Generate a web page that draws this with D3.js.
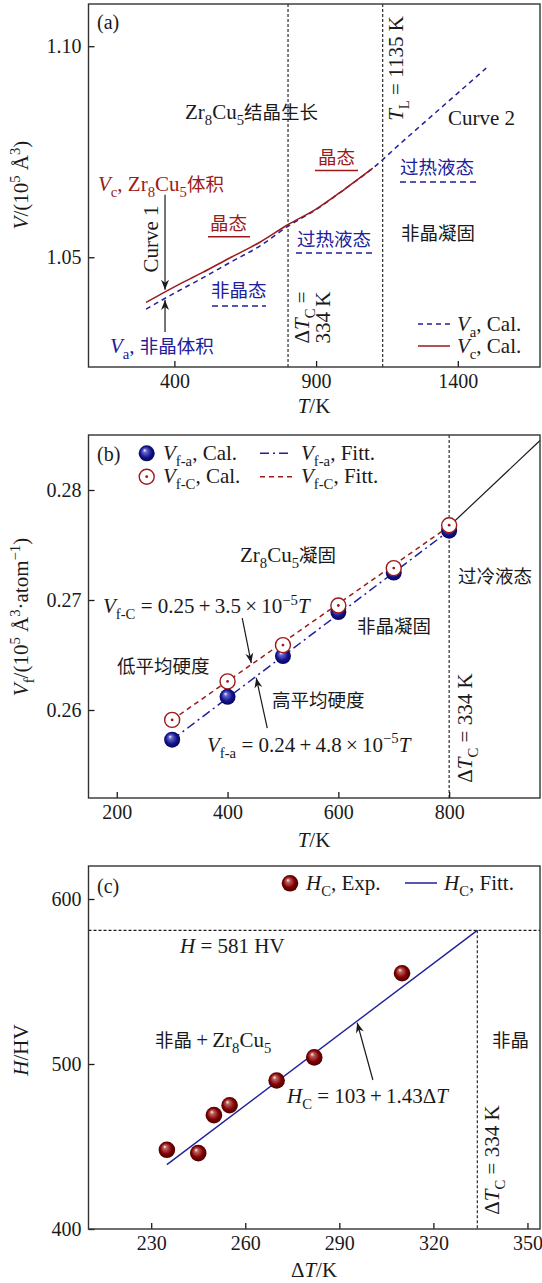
<!DOCTYPE html>
<html>
<head>
<meta charset="utf-8">
<script src="https://cdn.jsdelivr.net/npm/d3@7"></script>
<style>
body { margin: 0; background: #fff; }
svg { display: block; }
</style>
</head>
<body>
<script>
// (a) cell volume vs temperature
const tempCryst = [300, 400, 500, 600, 700, 800, 900, 1000, 1100];
const volCryst = [1.0393, 1.0430, 1.0464, 1.0500, 1.0535, 1.0577, 1.0614, 1.0661, 1.0711];
const tempAmor = [300, 400, 500, 600, 700, 800, 900, 1000, 1100, 1200, 1300, 1400, 1500];
const volAmor = [1.0377, 1.0415, 1.0451, 1.0489, 1.0526, 1.0573, 1.0613, 1.0661, 1.0711, 1.0771, 1.0830, 1.0889, 1.0948];
const markA = [801, 1135];
const xTicksA = [400, 900, 1400], yTicksA = [1.05, 1.10];

// (b) free volume vs temperature
const tempB = [300, 400, 500, 600, 700, 800];
const vfA = [0.2573, 0.2612, 0.2649, 0.2689, 0.2725, 0.2763];
const vfC = [0.2591, 0.2626, 0.2659, 0.2695, 0.2729, 0.2768];
const fitT = [300, 800];
const fitA = [0.2573, 0.2763];
const fitC = [0.2591, 0.2767];
const liqT = [800, 964], liqV = [0.2767, 0.2845];
const xTicksB = [200, 400, 600, 800], yTicksB = [0.26, 0.27, 0.28];

// (c) hardness vs undercooling
const dT = [235, 245, 250, 255, 270, 282, 310];
const hard = [448, 446, 469, 475, 490, 504, 555];
const fitDT = [235, 334], fitH = [439, 581];
const hMax = 581, dTc = 334;
const xTicksC = [230, 260, 290, 320, 350], yTicksC = [400, 500, 600];

const serif = "'Liberation Serif', 'Times New Roman', serif";
const cjk = "'Noto Sans CJK SC', sans-serif";
const red = "#9c1a1a", blue = "#20209a", ink = "#1a1a1a";
const left = 88.5, width = 451.5, height = 363;
const th = "\u2009"; // thin space round binary operators

const svg = d3.select("body").append("svg")
    .attr("width", 542).attr("height", 1283)
    .style("font-family", serif);

const defs = svg.append("defs");
function ballGrad(id, light, mid, dark) {
  const g = defs.append("radialGradient").attr("id", id)
      .attr("cx", "50%").attr("cy", "50%").attr("r", "55%")
      .attr("fx", "36%").attr("fy", "30%");
  g.append("stop").attr("offset", "0%").attr("stop-color", "#fff");
  g.append("stop").attr("offset", "20%").attr("stop-color", light);
  g.append("stop").attr("offset", "62%").attr("stop-color", mid);
  g.append("stop").attr("offset", "100%").attr("stop-color", dark);
}
ballGrad("ballBlue", "#6a6ad0", "#14148e", "#000050");
ballGrad("ballRed", "#c06060", "#7e0000", "#420000");

defs.append("marker").attr("id", "arr")
    .attr("viewBox", "-11 -5 12 10").attr("refX", 0).attr("refY", 0)
    .attr("markerWidth", 12).attr("markerHeight", 10)
    .attr("markerUnits", "userSpaceOnUse").attr("orient", "auto")
  .append("path").attr("d", "M0,0 L-10,-4 L-7,0 L-10,4 Z").attr("fill", ink);

// text with italic / sub / sup / cjk pieces
function rich(sel, x, y, segs, o = {}) {
  const fs = o.size || 21;
  const t = sel.append("text").attr("x", x).attr("y", y)
      .attr("font-size", fs).attr("text-anchor", o.anchor || "start")
      .attr("fill", o.color || ink);
  if (o.rotate) t.attr("transform", `rotate(${o.rotate},${x},${y})`);
  let shift = 0;
  segs.forEach(s => {
    const txt = s[0], f = s[1] || "";
    const target = f.includes("b") ? fs * 0.3 : f.includes("p") ? -fs * 0.4 : 0;
    const ts = t.append("tspan").text(txt).attr("dy", target - shift);
    shift = target;
    if (f.includes("b") || f.includes("p")) ts.attr("font-size", fs * 0.7);
    if (f.includes("i")) ts.attr("font-style", "italic");
    if (f.includes("c")) ts.attr("font-family", cjk).attr("font-size", 18.5);
  });
  return t;
}

function panel(top, xd, yd) {
  const g = svg.append("g").attr("transform", `translate(${left},${top})`);
  const x = d3.scaleLinear().domain(xd).range([0, width]);
  const y = d3.scaleLinear().domain(yd).range([height, 0]);
  return {g, x, y};
}

function axes(p, xt, yt, yfmt) {
  p.g.append("g").attr("transform", `translate(0,${height})`)
      .call(d3.axisBottom(p.x).tickValues(xt).tickSizeInner(-6).tickSizeOuter(0).tickPadding(7).tickFormat(d3.format("d")))
      .call(a => a.select(".domain").remove())
      .attr("font-family", serif).attr("font-size", 20).style("color", ink);
  p.g.append("g")
      .call(d3.axisLeft(p.y).tickValues(yt).tickSizeInner(-6).tickSizeOuter(0).tickPadding(7).tickFormat(yfmt))
      .call(a => a.select(".domain").remove())
      .attr("font-family", serif).attr("font-size", 20).style("color", ink);
  p.g.selectAll(".tick line").attr("stroke-width", 1.3);
  p.g.append("rect").attr("width", width).attr("height", height)
      .attr("fill", "none").attr("stroke", "#333").attr("stroke-width", 1.4);
}

function arrow(p, xs, ys) {
  p.g.append("line")
      .attr("x1", p.x(xs[0])).attr("y1", p.y(ys[0]))
      .attr("x2", p.x(xs[1])).attr("y2", p.y(ys[1]))
      .attr("stroke", ink).attr("stroke-width", 1.2).attr("marker-end", "url(#arr)");
}

function seg(x1, y1, x2, y2, color, dash) {
  svg.append("line").attr("x1", x1).attr("y1", y1).attr("x2", x2).attr("y2", y2)
      .attr("stroke", color).attr("stroke-width", 1.5).attr("stroke-dasharray", dash || null);
}

// ---------- (a) ----------
const pa = panel(4, [97, 1690], [1.024, 1.11]);

pa.g.selectAll(".vmark").data(markA).enter().append("line")
    .attr("x1", d => pa.x(d)).attr("x2", d => pa.x(d))
    .attr("y1", 0).attr("y2", height)
    .attr("stroke", ink).attr("stroke-width", 1.1).attr("stroke-dasharray", "3,2");

pa.g.append("path")
    .attr("fill", "none").attr("stroke", blue).attr("stroke-width", 1.5).attr("stroke-dasharray", "5,4")
    .attr("d", d3.line().curve(d3.curveMonotoneX)
      .x((d, i) => pa.x(tempAmor[i])).y(d => pa.y(d))(volAmor));
pa.g.append("path")
    .attr("fill", "none").attr("stroke", red).attr("stroke-width", 1.5)
    .attr("d", d3.line().curve(d3.curveMonotoneX)
      .x((d, i) => pa.x(tempCryst[i])).y(d => pa.y(d))(volCryst));

arrow(pa, [367, 367], [1.0648, 1.0423]);
arrow(pa, [367, 367], [1.0323, 1.0399]);

axes(pa, xTicksA, yTicksA, d3.format(".2f"));

rich(svg, 97, 29, [["(a)"]], {size: 20});
rich(svg, 185, 119, [["Zr"], ["8", "b"], ["Cu"], ["5", "b"], ["结晶生长", "c"]]);
rich(svg, 403, 68.5, [["T", "i"], ["L", "b"], [" = 1135 K"]], {rotate: -90, anchor: "middle"});
rich(svg, 448, 125, [["Curve 2"]]);
rich(svg, 318, 163.5, [["晶态", "c"]], {color: red});
seg(315, 170.5, 358, 170.5, red);
rich(svg, 400, 173.5, [["过热液态", "c"]], {color: blue});
seg(400, 182, 476, 182, blue, "6,4");
rich(svg, 98, 191, [["V", "i"], ["c", "b"], [", Zr"], ["8", "b"], ["Cu"], ["5", "b"], ["体积", "c"]], {color: red});
rich(svg, 158, 239, [["Curve 1"]], {rotate: -90, anchor: "middle"});
rich(svg, 210, 229.5, [["晶态", "c"]], {color: red});
seg(208, 236.7, 250, 236.7, red);
rich(svg, 211, 296.5, [["非晶态", "c"]], {color: blue});
seg(212, 306, 266, 306, blue, "6,4");
rich(svg, 110, 353, [["V", "i"], ["a", "b"], [", "], ["非晶体积", "c"]], {color: blue});
rich(svg, 297, 245.5, [["过热液态", "c"]], {color: blue});
seg(296, 253, 372, 253, blue, "6,4");
rich(svg, 401, 239.5, [["非晶凝固", "c"]]);
rich(svg, 309, 317.5, [["Δ"], ["T", "i"], ["C", "b"], [" ="]], {rotate: -90, anchor: "middle"});
rich(svg, 330, 317.5, [["334 K"]], {rotate: -90, anchor: "middle"});
seg(418, 324, 450, 324, blue, "5,4");
rich(svg, 457, 330.5, [["V", "i"], ["a", "b"], [", Cal."]]);
seg(418, 346, 450, 346, red);
rich(svg, 457, 352.5, [["V", "i"], ["c", "b"], [", Cal."]]);
rich(svg, 314, 413, [["T", "i"], ["/K"]], {anchor: "middle"});
rich(svg, 28, 185, [["V", "i"], ["/(10"], ["5", "p"], [" Å"], ["3", "p"], [")"]], {rotate: -90, anchor: "middle"});

// ---------- (b) ----------
const pb = panel(435, [149, 964], [0.252, 0.285]);

pb.g.append("line")
    .attr("x1", pb.x(800)).attr("x2", pb.x(800)).attr("y1", 0).attr("y2", height)
    .attr("stroke", ink).attr("stroke-width", 1.1).attr("stroke-dasharray", "3,2");

const lineB = d3.line().x(d => pb.x(d[0])).y(d => pb.y(d[1]));
pb.g.append("path").attr("fill", "none").attr("stroke", ink).attr("stroke-width", 1.2)
    .attr("d", lineB(d3.zip(liqT, liqV)));
pb.g.append("path").attr("fill", "none").attr("stroke", blue).attr("stroke-width", 1.5)
    .attr("stroke-dasharray", "9,4,2,4")
    .attr("d", lineB(d3.zip(fitT, fitA)));
pb.g.append("path").attr("fill", "none").attr("stroke", red).attr("stroke-width", 1.5)
    .attr("stroke-dasharray", "5,4")
    .attr("d", lineB(d3.zip(fitT, fitC)));

pb.g.selectAll(".ballA").data(vfA).enter().append("circle")
    .attr("cx", (d, i) => pb.x(tempB[i])).attr("cy", d => pb.y(d))
    .attr("r", 8).attr("fill", "url(#ballBlue)");
pb.g.selectAll(".ringC").data(vfC).enter().append("circle")
    .attr("cx", (d, i) => pb.x(tempB[i])).attr("cy", d => pb.y(d))
    .attr("r", 7.5).attr("fill", "#fff").attr("stroke", red).attr("stroke-width", 1.4);
pb.g.selectAll(".dotC").data(vfC).enter().append("circle")
    .attr("cx", (d, i) => pb.x(tempB[i])).attr("cy", d => pb.y(d))
    .attr("r", 1.4).attr("fill", red);

arrow(pb, [426.5, 442.8], [0.26836, 0.26427]);
arrow(pb, [471.7, 451.8], [0.25836, 0.26291]);

axes(pb, xTicksB, yTicksB, d3.format(".2f"));

rich(svg, 97, 461, [["(b)"]], {size: 20});
svg.append("circle").attr("cx", 146.7).attr("cy", 453.3).attr("r", 8).attr("fill", "url(#ballBlue)");
rich(svg, 163, 460, [["V", "i"], ["f-a", "b"], [", Cal."]]);
seg(260, 453.3, 292, 453.3, blue, "9,4,2,4");
rich(svg, 301, 460, [["V", "i"], ["f-a", "b"], [", Fitt."]]);
svg.append("circle").attr("cx", 146.7).attr("cy", 476.7).attr("r", 7.5)
    .attr("fill", "#fff").attr("stroke", red).attr("stroke-width", 1.4);
svg.append("circle").attr("cx", 146.7).attr("cy", 476.7).attr("r", 1.4).attr("fill", red);
rich(svg, 163, 483, [["V", "i"], ["f-C", "b"], [", Cal."]]);
seg(260, 476.7, 292, 476.7, red, "5,4");
rich(svg, 301, 483, [["V", "i"], ["f-C", "b"], [", Fitt."]]);
rich(svg, 240, 561.5, [["Zr"], ["8", "b"], ["Cu"], ["5", "b"], ["凝固", "c"]]);
rich(svg, 458, 583, [["过冷液态", "c"]]);
rich(svg, 103, 613, [["V", "i"], ["f-C", "b"], [` = 0.25${th}+${th}3.5${th}×${th}10`], ["−5", "p"], ["T", "i"]]);
rich(svg, 117, 673, [["低平均硬度", "c"]]);
rich(svg, 272, 706.5, [["高平均硬度", "c"]]);
rich(svg, 207, 751.5, [["V", "i"], ["f-a", "b"], [` = 0.24${th}+${th}4.8${th}×${th}10`], ["−5", "p"], ["T", "i"]]);
rich(svg, 357, 632.5, [["非晶凝固", "c"]]);
rich(svg, 472, 728, [["Δ"], ["T", "i"], ["C", "b"], [" = 334 K"]], {rotate: -90, anchor: "middle"});
rich(svg, 314, 847, [["T", "i"], ["/K"]], {anchor: "middle"});
rich(svg, 28, 617, [["V", "i"], ["f", "b"], ["/(10"], ["5", "p"], [" Å"], ["3", "p"], ["·atom"], ["−1", "p"], [")"]], {rotate: -90, anchor: "middle"});

// ---------- (c) ----------
const pc = panel(866, [210, 354], [400, 620]);

pc.g.append("line")
    .attr("x1", 0).attr("x2", width).attr("y1", pc.y(hMax)).attr("y2", pc.y(hMax))
    .attr("stroke", ink).attr("stroke-width", 1.1).attr("stroke-dasharray", "3,2");
pc.g.append("line")
    .attr("x1", pc.x(dTc)).attr("x2", pc.x(dTc)).attr("y1", pc.y(hMax)).attr("y2", height)
    .attr("stroke", ink).attr("stroke-width", 1.1).attr("stroke-dasharray", "3,2");

pc.g.append("path").attr("fill", "none").attr("stroke", blue).attr("stroke-width", 1.4)
    .attr("d", d3.line().x(d => pc.x(d[0])).y(d => pc.y(d[1]))(d3.zip(fitDT, fitH)));

pc.g.selectAll(".ballH").data(hard).enter().append("circle")
    .attr("cx", (d, i) => pc.x(dT[i])).attr("cy", d => pc.y(d))
    .attr("r", 8.3).attr("fill", "url(#ballRed)");

arrow(pc, [300.7, 295.7], [490.3, 525]);

axes(pc, xTicksC, yTicksC, d3.format("d"));

rich(svg, 97, 893, [["(c)"]], {size: 20});
svg.append("circle").attr("cx", 290).attr("cy", 883.3).attr("r", 8.3).attr("fill", "url(#ballRed)");
rich(svg, 306, 890, [["H", "i"], ["C", "b"], [", Exp."]]);
seg(405, 883, 437, 883, blue);
rich(svg, 444, 890, [["H", "i"], ["C", "b"], [", Fitt."]]);
rich(svg, 180, 953, [["H", "i"], [" = 581 HV"]]);
rich(svg, 155, 1046.5, [["非晶", "c"], [`${th}+${th}Zr`], ["8", "b"], ["Cu"], ["5", "b"]]);
rich(svg, 492, 1046.5, [["非晶", "c"]]);
rich(svg, 287, 1103, [["H", "i"], ["C", "b"], [` = 103${th}+${th}1.43Δ`], ["T", "i"]]);
rich(svg, 499, 1160, [["Δ"], ["T", "i"], ["C", "b"], [" = 334 K"]], {rotate: -90, anchor: "middle"});
rich(svg, 314, 1277, [["Δ"], ["T", "i"], ["/K"]], {anchor: "middle"});
rich(svg, 28, 1050, [["H", "i"], ["/HV"]], {rotate: -90, anchor: "middle"});
</script>
</body>
</html>
